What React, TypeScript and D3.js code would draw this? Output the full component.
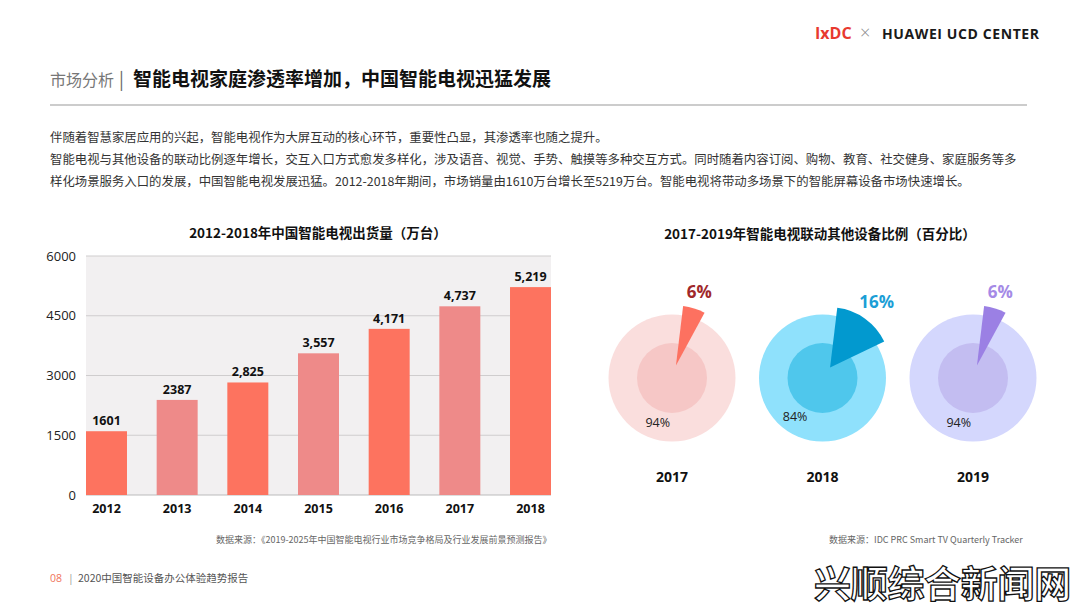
import React from "react";
import * as d3 from "d3";

const barYears = ["2012", "2013", "2014", "2015", "2016", "2017", "2018"];
const shipments = [1601, 2387, 2825, 3557, 4171, 4737, 5219];
const shipmentLabels = ["1601", "2387", "2,825", "3,557", "4,171", "4,737", "5,219"];
const yTicks = [0, 1500, 3000, 4500, 6000];

const pieYears = ["2017", "2018", "2019"];
const linkedShare = [6, 16, 6];
const otherShare = [94, 84, 94];

const bodyLines = [
  "伴随着智慧家居应用的兴起，智能电视作为大屏互动的核心环节，重要性凸显，其渗透率也随之提升。",
  "智能电视与其他设备的联动比例逐年增长，交互入口方式愈发多样化，涉及语音、视觉、手势、触摸等多种交互方式。同时随着内容订阅、购物、教育、社交健身、家庭服务等多",
  "样化场景服务入口的发展，中国智能电视发展迅猛。2012-2018年期间，市场销量由1610万台增长至5219万台。智能电视将带动多场景下的智能屏幕设备市场快速增长。",
];

const CJK = "'Noto Sans CJK SC', 'Noto Sans', sans-serif";
const LATIN = "'Open Sans', 'Noto Sans', sans-serif";

const pieColors = [
  { outer: "#fadedd", inner: "#f6c7c6", slice: "#fd7160", label: "#a0282a" },
  { outer: "#8fe1fc", inner: "#4fc7ec", slice: "#0299cf", label: "#1b9ed6" },
  { outer: "#d4d7fd", inner: "#c3bdf1", slice: "#9b80e4", label: "#a58ae6" },
];

export default function App() {
  // bar chart
  const x = d3.scaleBand<string>().domain(barYears).range([86, 551]).paddingInner(0.42).paddingOuter(0);
  const y = d3.scaleLinear().domain([0, 6000]).range([495, 256]);

  // pies
  const pieCx = d3.scalePoint<string>().domain(pieYears).range([672, 973]);
  const pieCy = 378;
  const start = 0.12;
  const pieGen = d3.pie<number>().sort(null).value((d) => d).startAngle(start).endAngle(start + Math.PI * 2);
  const sliceArc = d3.arc<d3.PieArcDatum<number>>().innerRadius(0).outerRadius(60);

  return (
    <svg width={1080} height={608} style={{ position: "absolute", left: 0, top: 0, background: "#fff" }}>
      <rect width={1080} height={608} fill="#fff" />
      {/* header logo */}
      <text x={815} y={39} fontFamily={LATIN} fontWeight={700} fontSize={16} fill="#e8392f">IxDC</text>
      <text x={860} y={39} fontFamily={LATIN} fontWeight={300} fontSize={18} fill="#888">×</text>
      <text x={882} y={38.5} fontFamily={LATIN} fontWeight={700} fontSize={14} fill="#1a1a1a" letterSpacing={0.6}>HUAWEI UCD CENTER</text>

      {/* title */}
      <text x={50} y={86} fontFamily={CJK} fontSize={16} fill="#777">市场分析</text>
      <text x={119} y={86} fontFamily={CJK} fontSize={18} fill="#666">|</text>
      <text x={133} y={86} fontFamily={CJK} fontWeight={700} fontSize={19} fill="#111">智能电视家庭渗透率增加，中国智能电视迅猛发展</text>
      <line x1={50} x2={1027} y1={105} y2={105} stroke="#999" strokeWidth={1} />

      {bodyLines.map((t, i) => (
        <text key={i} x={50} y={141.5 + i * 22} fontFamily={CJK} fontSize={12.4} fill="#333">{t}</text>
      ))}

      {/* bar chart title */}
      <text x={318} y={238} textAnchor="middle" fontFamily={CJK} fontWeight={700} fontSize={13.5} fill="#111">2012-2018年中国智能电视出货量（万台）</text>
      <rect x={86} y={y(6000)} width={465} height={y(0) - y(6000)} fill="#f2f0f1" />
      {yTicks.map((t) => (
        <g key={t}>
          <line x1={86} x2={551} y1={y(t)} y2={y(t)} stroke={t === 0 ? "#bbb" : "#cfcdce"} strokeWidth={1} />
          <text x={76} y={y(t)} dy="0.35em" textAnchor="end" fontFamily={LATIN} fontSize={13} fill="#222">{t}</text>
        </g>
      ))}
      {barYears.map((yr, i) => (
        <g key={yr}>
          <rect x={x(yr)} y={y(shipments[i])} width={x.bandwidth()} height={y(0) - y(shipments[i])} fill={i % 2 === 0 ? "#fd735f" : "#ee8a89"} />
          <text x={(x(yr) as number) + x.bandwidth() / 2} y={y(shipments[i]) - 6} textAnchor="middle" fontFamily={LATIN} fontWeight={700} fontSize={12.5} fill="#111">{shipmentLabels[i]}</text>
          <text x={(x(yr) as number) + x.bandwidth() / 2} y={513} textAnchor="middle" fontFamily={LATIN} fontWeight={700} fontSize={12.5} fill="#111">{yr}</text>
        </g>
      ))}
      <text x={216} y={543} fontFamily={CJK} fontSize={9} fill="#666">数据来源：《2019-2025年中国智能电视行业市场竞争格局及行业发展前景预测报告》</text>

      {/* pie chart */}
      <text x={820} y={239} textAnchor="middle" fontFamily={CJK} fontWeight={700} fontSize={13.5} fill="#111">2017-2019年智能电视联动其他设备比例（百分比）</text>
      {pieYears.map((yr, i) => {
        const cx = pieCx(yr) as number;
        const arcs = pieGen([linkedShare[i], otherShare[i]]);
        const s = arcs[0];
        const big = arcs[1];
        const mid = (s.startAngle + s.endAngle) / 2;
        const ex = 13;
        const ox = Math.sin(mid) * ex;
        const oy = -Math.cos(mid) * ex;
        const lr = i === 1 ? 93 : 90;
        const bm = (big.startAngle + big.endAngle) / 2;
        const c = pieColors[i];
        return (
          <g key={yr}>
            <circle cx={cx} cy={pieCy} r={63.5} fill={c.outer} />
            <circle cx={cx} cy={pieCy} r={35} fill={c.inner} />
            <path d={sliceArc(s) || ""} transform={`translate(${cx + ox},${pieCy + oy})`} fill={c.slice} />
            <text x={cx + Math.sin(mid) * lr} y={pieCy - Math.cos(mid) * lr} dy="0.35em" textAnchor="middle" fontFamily={LATIN} fontWeight={700} fontSize={17} fill={c.label}>{linkedShare[i]}%</text>
            <text x={cx + Math.sin(bm) * 47} y={pieCy - Math.cos(bm) * 47} dy="0.35em" textAnchor="middle" fontFamily={LATIN} fontSize={12.5} fill="#222">{otherShare[i]}%</text>
            <text x={cx} y={482} textAnchor="middle" fontFamily={LATIN} fontWeight={700} fontSize={14} fill="#111">{yr}</text>
          </g>
        );
      })}
      <text x={829} y={543} fontFamily={CJK} fontSize={9} fill="#666">数据来源：IDC PRC Smart TV Quarterly Tracker</text>

      {/* footer */}
      <text x={50} y={582} fontFamily={LATIN} fontSize={10.5} fill="#f0735a">08</text>
      <text x={68} y={582} fontFamily={LATIN} fontSize={10.5} fill="#999">|</text>
      <text x={78} y={582} fontFamily={CJK} fontSize={10.5} fill="#555">2020中国智能设备办公体验趋势报告</text>

      {/* watermark */}
      <text x={814} y={598} fontFamily={CJK} fontWeight={700} fontSize={37} fill="#fff" stroke="#111" strokeWidth={1.3} letterSpacing={-0.3}>兴顺综合新闻网</text>
    </svg>
  );
}
